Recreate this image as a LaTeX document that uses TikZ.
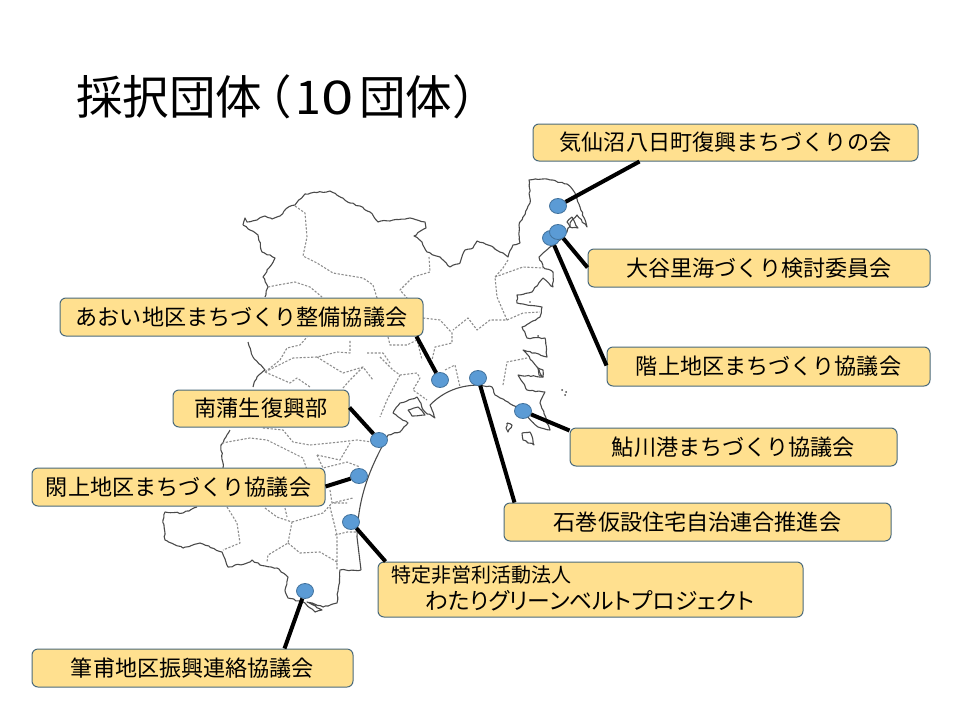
\documentclass[tikz,border=0pt]{standalone}
\usepackage{fontspec}
\setmainfont{Noto Sans CJK JP}
\usetikzlibrary{decorations.pathmorphing,shapes.geometric}
\definecolor{boxfill}{HTML}{FFE08F}
\definecolor{boxline}{HTML}{4A6A7C}
\definecolor{dotfill}{HTML}{5B9BD5}
\definecolor{dotline}{HTML}{41719C}
\definecolor{coast}{HTML}{4A4A4A}
\definecolor{border}{HTML}{8E8E8E}
\tikzset{
  x=1pt,y=-1pt,
  lbl/.style={draw=boxline,line width=1pt,fill=boxfill,rounded corners=6pt,inner sep=0pt,font=\fontsize{22.1}{24}\selectfont,text=black},
  pin/.style={ellipse,draw=dotline,line width=0.8pt,fill=dotfill,minimum width=17pt,minimum height=15pt,inner sep=0pt},
  link/.style={draw=black,line width=4pt},
  shore/.style={draw=coast,line width=1.1pt,line join=round,decorate,decoration={random steps,segment length=3pt,amplitude=0.7pt}},
  smooth shore/.style={draw=coast,line width=1.1pt,line join=round},
  ward/.style={draw=border,line width=1.1pt,dash pattern=on 2.2pt off 1.6pt,line join=round},
}
\pgfmathsetseed{7}
\begin{document}
\begin{tikzpicture}
\useasboundingbox (0,0) rectangle (960,720);
\fill[white] (0,0) rectangle (960,720);
% coast
\draw[shore] (243,225)--(245,218)--(247,222)--(257,220)--(265,216)--(272,219)--(280,216)--(287,208)--(295,205)--(305,194)--(330,191)--(350,203)--(360,206)--(370,212)--(378,222)--(393,220)--(410,218)--(425,222)--(426,228)--(414,236)--(422,242)--(427,252)--(440,257)--(450,267)--(460,263)--(465,250)--(473,248)--(477,241)--(493,247)--(508,257)--(513,245)--(520,243)--(519,225)--(530,203)--(529,180)--(547,179)--(567,184)--(575,193)--(580,207)--(587,227)--(577,215)--(572,220)--(567,232)--(560,240)--(550,247)--(539,257)--(543,267)--(553,272)--(553,287)--(543,278)--(532,292)--(517,295)--(517,303)--(542,307)--(540,317)--(522,327)--(527,338)--(545,338)--(547,357)--(523,350)--(537,367)--(543,377)--(518,375)--(527,390)--(545,392)--(540,403)--(550,430)--(538,427)--(520,410)--(508,402)--(495,395)--(492,387)--(480,385);
\draw[smooth shore] (480,385)..controls (462,385) and (445,390)..(430,405);
\draw[shore] (430,405)--(435,418)--(425,412)--(417,397)--(400,403)--(393,413)--(408,423)--(400,432)--(388,435);
\draw[smooth shore] (388,435)..controls (375,460) and (358,490)..(357,537)--(361,570);
\draw[shore] (361,570)--(340,570)--(337,603)--(323,607)--(307,602)--(322,610)--(315,612)--(305,603)--(288,598)--(285,590)--(288,577)--(277,568)--(260,565)--(252,560)--(247,563)--(228,567)--(222,552)--(200,543)--(183,548)--(165,540)--(163,520)--(165,512)--(183,513)--(197,507);
\draw[shore] (223,468)--(221,445)--(230,430);
\draw[shore] (253,387)--(257,377)--(265,370)--(253,357)--(248,342);
\draw[shore] (265,297)--(268,287)--(263,277)--(275,258)--(262,252)--(258,235)--(243,225);
% islands
\draw[shore] (572,217)--(578,228)--(570,227)--(567,222)--(572,217);
\draw[shore] (507,423)--(512,425)--(508,432)--(506,428)--(507,423);
\draw[shore] (522,433)--(530,432)--(534,445)--(523,440)--(522,433);
\draw[shore] (538,368)--(543,370)--(543,377)--(539,375)--(538,368);
\draw[shore] (408,410)--(418,407)--(425,415)--(412,416)--(408,410);
\fill[coast] (562,390) circle (1pt) (566,392) circle (1pt) (565,395) circle (1pt) (530,302) circle (0.8pt) (538,336) circle (1pt);
% ward borders
\draw[ward] (295,206)--(305,213)--(307,237)--(303,256)--(317,263)--(333,273)--(363,278)--(373,285)--(377,298);
\draw[ward] (268,287)--(278,285)--(295,282)--(310,287)--(322,297);
\draw[ward] (265,372)--(280,360)--(287,348)--(300,345)--(307,337);
\draw[ward] (265,372)--(293,358)--(317,357)--(337,352)--(350,353)--(350,340);
\draw[ward] (317,357)--(333,367)--(343,373)--(363,367)--(373,380);
\draw[ward] (265,372)--(290,383)--(297,378)--(310,387);
\draw[ward] (343,388)--(350,380)--(363,367);
\draw[ward] (367,353)--(383,353)--(390,363);
\draw[ward] (429,257)--(430,272)--(413,277)--(400,290)--(407,298);
\draw[ward] (508,260)--(503,268)--(495,277)--(497,297)--(507,320)--(490,320)--(477,330)--(468,318)--(453,330);
\draw[ward] (495,277)--(523,267)--(543,268);
\draw[ward] (507,320)--(523,313)--(540,312);
\draw[ward] (423,318)--(440,320)--(452,333)--(452,343)--(435,347)--(432,360);
\draw[ward] (388,337)--(390,345)--(407,345)--(417,340)--(422,360);
\draw[ward] (380,357)--(393,370)--(400,375)--(417,373)--(420,378)--(413,390)--(427,400);
\draw[ward] (400,375)--(387,400)--(380,417);
\draw[ward] (445,370)--(455,365)--(460,387);
\draw[ward] (503,385)--(507,362)--(527,358);
\draw[ward] (222,443)--(250,438)--(267,440)--(283,448)--(303,458)--(307,470);
\draw[ward] (263,428)--(283,430)--(293,442)--(310,445)--(340,442)--(357,440)--(372,442);
\draw[ward] (317,455)--(323,468)--(347,462)--(360,467);
\draw[ward] (317,455)--(340,460)--(350,443);
\draw[ward] (227,507)--(237,523)--(240,543)--(223,550);
\draw[ward] (265,508)--(277,517)--(292,522)--(288,543)--(268,555)--(267,562);
\draw[ward] (292,522)--(323,513)--(332,503)--(353,498);
\draw[ward] (330,490)--(332,503)--(347,503);
\draw[ward] (285,508)--(287,517);
\draw[ward] (288,543)--(300,553)--(320,552)--(337,562);
\draw[ward] (335,535)--(347,532)--(357,532);
\draw[ward] (330,507)--(337,535)--(337,570);
% title
\node[anchor=west,inner sep=0pt,font=\fontsize{46.5}{50}\selectfont] (title) at (76,97) {採択団体\kern-17pt（\kern4pt 1\scalebox{1.25}[1]{0}\kern5.5pt 団体）};
% boxes
\node[lbl,minimum width=385pt,minimum height=37pt] (b1) at (725.5,142.5) {気仙沼八日町復興まちづくりの会};
\node[lbl,minimum width=342pt,minimum height=38pt] (b2) at (759,268) {大谷里海づくり検討委員会};
\node[lbl,minimum width=323pt,minimum height=39pt] (b3) at (768.5,366.5) {階上地区まちづくり協議会};
\node[lbl,minimum width=327pt,minimum height=38pt] (b4) at (733.5,447) {鮎川港まちづくり協議会};
\node[lbl,minimum width=387pt,minimum height=38pt] (b5) at (697.5,522) {石巻仮設住宅自治連合推進会};
\node[lbl,minimum width=425pt,minimum height=55pt] (b6) at (590.5,589.5) {};
\node[lbl,minimum width=321pt,minimum height=38pt] (b7) at (192.5,668) {筆甫地区振興連絡協議会};
\node[lbl,minimum width=293pt,minimum height=38pt] (b8) at (178.5,487) {閖上地区まちづくり協議会};
\node[lbl,minimum width=176pt,minimum height=37pt] (b9) at (261,408.5) {南蒲生復興部};
\node[lbl,minimum width=363pt,minimum height=38pt] (b10) at (241.5,317) {あおい地区まちづくり整備協議会};
\node[anchor=west,inner sep=0pt,font=\fontsize{20}{22}\selectfont] (npo1) at (391,575) {特定非営利活動法人};
\node[inner sep=0pt,font=\fontsize{22.8}{25}\selectfont\addfontfeature{RawFeature=+palt}] (npo2) at (589.5,601) {わたりグリーンベルトプロジェクト};
% pins
\node[pin] (d1) at (558,206) {};
\node[pin] (d3) at (551,238) {};
\node[pin] (d2) at (558,232) {};
\node[pin] (d10) at (440,380) {};
\node[pin] (d5) at (478,378) {};
\node[pin] (d4) at (523,411) {};
\node[pin] (d9) at (379,440) {};
\node[pin] (d8) at (359,476) {};
\node[pin] (d6) at (351,522) {};
\node[pin] (d7) at (305,591) {};
% connectors
\draw[link] (d1) -- ([xshift=107pt]b1.south west);
\draw[link] (d2) -- ([yshift=20pt]b2.south west);
\draw[link] (d3) -- ([yshift=21pt]b3.south west);
\draw[link] (d4) -- ([yshift=36pt]b4.south west);
\draw[link] (d5) -- ([xshift=11pt]b5.north west);
\draw[link] (d6) -- ([xshift=8pt]b6.north west);
\draw[link] (d7) -- ([xshift=253pt]b7.north west);
\draw[link] (d8) -- ([yshift=-19pt]b8.north east);
\draw[link] (d9) -- ([yshift=-18pt]b9.north east);
\draw[link] (d10) -- ([xshift=-7pt]b10.south east);
\end{tikzpicture}
\end{document}
